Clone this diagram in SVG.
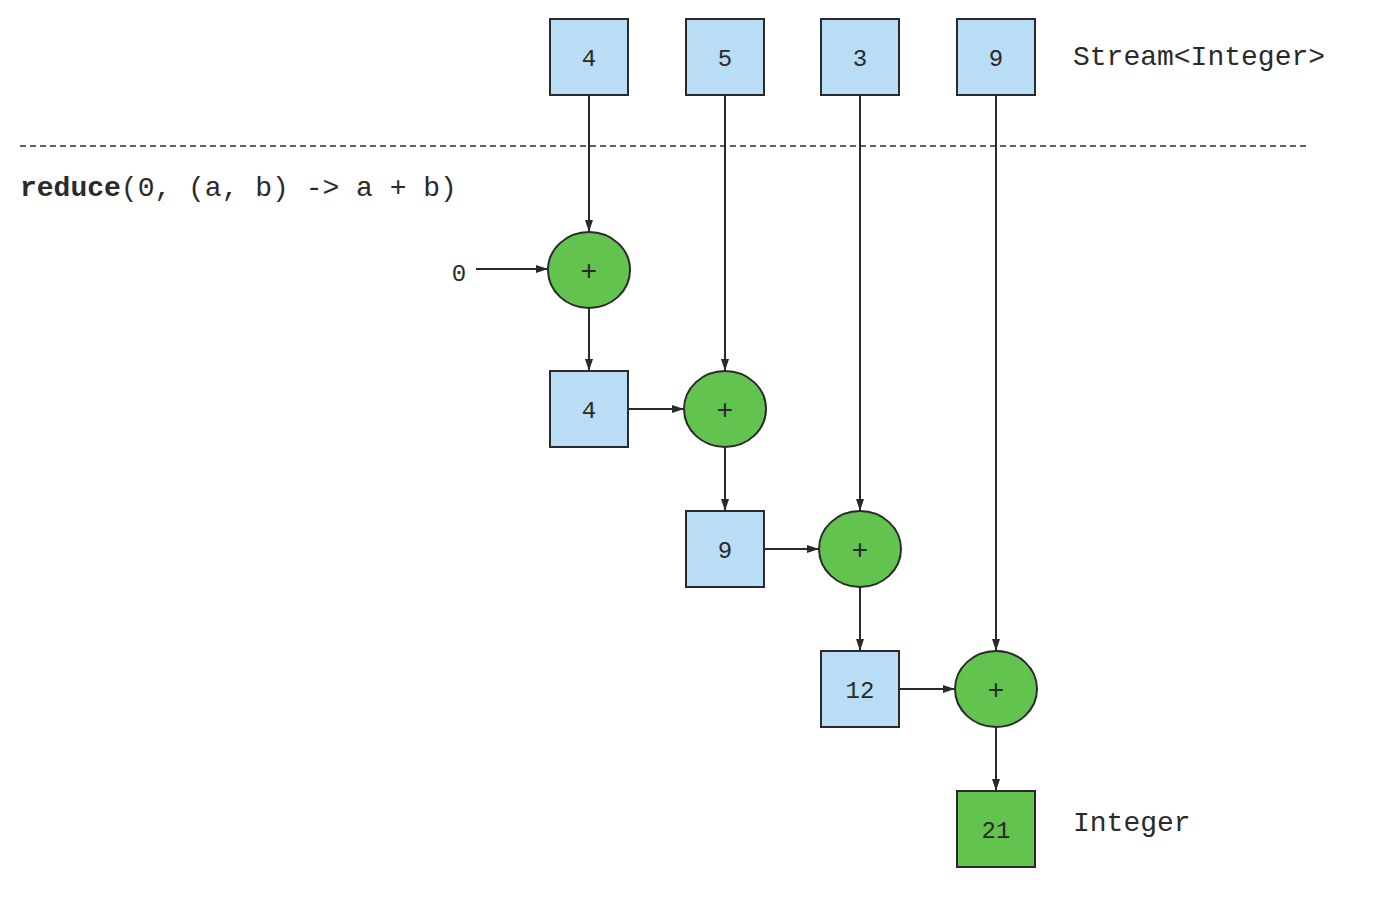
<svg xmlns="http://www.w3.org/2000/svg" width="1394" height="906" viewBox="0 0 1394 906">
<style>
.box{fill:#b9ddf4;stroke:#2a2a2a;stroke-width:2}
.res{fill:#62c44f;stroke:#2a2a2a;stroke-width:2}
.op{fill:#62c44f;stroke:#2a2a2a;stroke-width:2}
.num{font-family:"Liberation Mono","Courier New",monospace;font-size:24px;fill:#2a2a2a;text-anchor:middle}
.lbl{font-family:"Liberation Mono","Courier New",monospace;font-size:28px;fill:#2a2a2a}
.plus{font-family:"Liberation Mono",monospace;font-size:28px;fill:#2a2a2a;text-anchor:middle}
.con{stroke:#2a2a2a;stroke-width:2;fill:none;marker-end:url(#ah)}
</style>
<defs>
<marker id="ah" markerWidth="12" markerHeight="8" refX="11" refY="4" orient="auto" markerUnits="userSpaceOnUse">
<path d="M0,0 L12,4 L0,8 Z" fill="#2a2a2a"/>
</marker>
</defs>
<rect width="1394" height="906" fill="#fff"/>
<line x1="20" y1="146" x2="1308" y2="146" stroke="#2a2a2a" stroke-width="1.5" stroke-dasharray="6,4"/>
<text class="lbl" x="20" y="196"><tspan font-weight="bold">reduce</tspan>(0, (a, b) -&gt; a + b)</text>
<text class="lbl" x="1073" y="65">Stream&lt;Integer&gt;</text>
<text class="lbl" x="1073" y="831">Integer</text>
<text class="num" x="459" y="281">0</text>
<g id="connectors">
<line class="con" x1="589" y1="96" x2="589" y2="231"/>
<line class="con" x1="725" y1="96" x2="725" y2="370"/>
<line class="con" x1="860" y1="96" x2="860" y2="510"/>
<line class="con" x1="996" y1="96" x2="996" y2="650"/>
<line class="con" x1="476" y1="269" x2="547" y2="269"/>
<line class="con" x1="589" y1="308" x2="589" y2="370"/>
<line class="con" x1="629" y1="409" x2="683" y2="409"/>
<line class="con" x1="725" y1="447" x2="725" y2="510"/>
<line class="con" x1="765" y1="549" x2="818" y2="549"/>
<line class="con" x1="860" y1="587" x2="860" y2="650"/>
<line class="con" x1="900" y1="689" x2="954" y2="689"/>
<line class="con" x1="996" y1="727" x2="996" y2="790"/>
</g>
<g id="s4"><rect class="box" x="550" y="19" width="78" height="76"/><text class="num" x="589" y="66">4</text></g>
<g id="s5"><rect class="box" x="686" y="19" width="78" height="76"/><text class="num" x="725" y="66">5</text></g>
<g id="s3"><rect class="box" x="821" y="19" width="78" height="76"/><text class="num" x="860" y="66">3</text></g>
<g id="s9"><rect class="box" x="957" y="19" width="78" height="76"/><text class="num" x="996" y="66">9</text></g>
<g id="op1"><ellipse class="op" cx="589" cy="270" rx="41" ry="38"/><text class="plus" x="589" y="280">+</text></g>
<g id="op2"><ellipse class="op" cx="725" cy="409" rx="41" ry="38"/><text class="plus" x="725" y="419">+</text></g>
<g id="op3"><ellipse class="op" cx="860" cy="549" rx="41" ry="38"/><text class="plus" x="860" y="559">+</text></g>
<g id="op4"><ellipse class="op" cx="996" cy="689" rx="41" ry="38"/><text class="plus" x="996" y="699">+</text></g>
<g id="r4"><rect class="box" x="550" y="371" width="78" height="76"/><text class="num" x="589" y="418">4</text></g>
<g id="r9"><rect class="box" x="686" y="511" width="78" height="76"/><text class="num" x="725" y="558">9</text></g>
<g id="r12"><rect class="box" x="821" y="651" width="78" height="76"/><text class="num" x="860" y="698">12</text></g>
<g id="r21"><rect class="res" x="957" y="791" width="78" height="76"/><text class="num" x="996" y="838">21</text></g>
</svg>
